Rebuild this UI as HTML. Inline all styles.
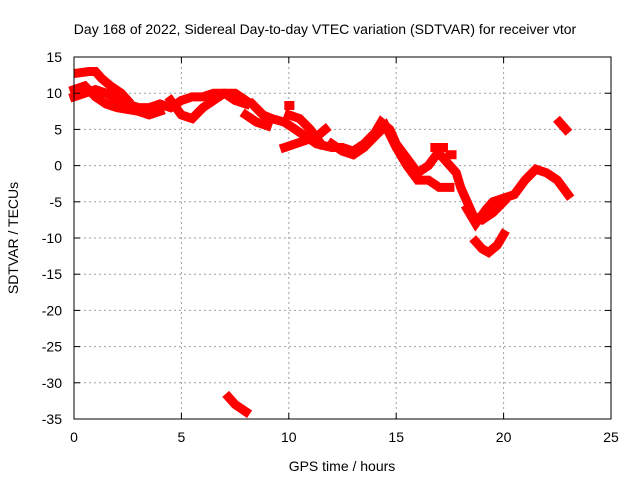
<!DOCTYPE html>
<html><head><meta charset="utf-8"><style>
body{margin:0;background:#fff}
svg{display:block;font-family:"Liberation Sans",sans-serif;font-size:14px}
</style></head><body>
<svg width="640" height="480">
<g id="grid"></g>
<g id="series"></g>
<rect x="74" y="57" width="537" height="362" fill="none" stroke="#000"/>
<g id="ticks"></g>
<text x="325" y="34" text-anchor="middle">Day 168 of 2022, Sidereal Day-to-day VTEC variation (SDTVAR) for receiver vtor</text>
<text x="342" y="471" text-anchor="middle">GPS time / hours</text>
<text x="18" y="238" text-anchor="middle" transform="rotate(-90 18 238)">SDTVAR / TECUs</text>
</svg>
<script>
const xTicks=[0,5,10,15,20,25];
const yTicks=[15,10,5,0,-5,-10,-15,-20,-25,-30,-35];
const trackA=[[0,9.5],[0.5,10],[1,10.5],[1.5,10],[2,9],[2.5,8.5],[3,8],[3.5,8],[4,8.5],[4.5,8],[5,9],[5.5,9.5],[6,9.5],[6.5,10],[7,10],[7.5,9],[8,8.5]];
const trackB=[[0.2,12.8],[0.7,13],[1,13],[1.3,12],[1.7,11],[2.2,10],[2.5,9]];
const trackC=[[0,10.5],[0.5,11],[1,9.5],[1.5,8.5],[2,8],[3,7.5],[3.5,7],[4,7.5]];
const trackD=[[4.5,9],[5,7],[5.5,6.5],[6,8],[6.5,9],[7,10],[7.5,10],[8,9]];
const trackE=[[8.3,8.5],[8.8,7],[9.2,6.5],[9.8,6],[10.3,5],[10.8,4],[11.3,3],[12,2.5],[12.5,2.5],[13,2],[13.5,3],[14,4.5],[14.3,6],[14.7,5],[15,3],[15.5,1],[16,-1],[16.5,0],[17,2]];
const trackF=[[8,7],[8.5,6],[9,5.5]];
const trackG=[[10,8.3],[10.05,8.3]];
const trackH=[[9.8,2.5],[10.3,3],[10.8,3.5],[11.3,4],[11.7,5]];
const trackI=[[10,7],[10.5,6.5],[11,5],[11.5,3]];
const trackJ=[[12,3],[12.5,2],[13,1.5],[13.5,2.5],[14,4],[14.5,5.5],[15,2.5],[15.5,0],[16,-2],[16.5,-2],[17,-3],[17.5,-3]];
const trackK=[[17.2,1],[17.5,0],[17.8,-1],[18,-3],[18.3,-5],[18.6,-7],[19,-7.5],[19.5,-6.5],[20,-5]];
const trackL=[[18.3,-6],[18.7,-8],[19.2,-6],[19.5,-5],[20,-4.5],[20.5,-4],[21,-2],[21.5,-0.5],[22,-1],[22.5,-2],[23,-4]];
const trackM=[[18.7,-10.5],[19,-11.5],[19.3,-12],[19.7,-11],[20,-9.5]];
const trackN=[[7.2,-32],[7.5,-33],[8,-34]];
const trackO=[[22.6,6],[22.9,5]];
const trackQ=[[16.8,2.5],[17.2,2.5]];
const trackR=[[17.5,1.5],[17.6,1.5]];
const tracks=[trackA,trackB,trackC,trackD,trackE,trackF,trackG,trackH,trackI,trackJ,trackK,trackL,trackM,trackN,trackO,trackQ,trackR];
const NS='http://www.w3.org/2000/svg';
const X=v=>74+v*537/25, Y=v=>57+(15-v)*362/50;
const grid=document.getElementById('grid'),tk=document.getElementById('ticks'),ser=document.getElementById('series');
function mk(tag,at,parent){const e=document.createElementNS(NS,tag);for(const k in at)e.setAttribute(k,at[k]);parent.appendChild(e);return e;}
xTicks.forEach(t=>{
 if(t>0&&t<25){const g=mk('line',{x1:X(t),x2:X(t),y1:57,y2:419,stroke:'#a0a0a0','stroke-dasharray':'2,3'},grid);
 
 }
 mk('line',{x1:X(t),x2:X(t),y1:419,y2:413,stroke:'#000'},tk);
 mk('line',{x1:X(t),x2:X(t),y1:57,y2:63,stroke:'#000'},tk);
 const l=mk('text',{x:X(t),y:442,'text-anchor':'middle'},tk);l.textContent=t;
 
 
});
yTicks.forEach(t=>{
 if(t<15&&t>-35){const g=mk('line',{x1:74,x2:611,y1:Y(t),y2:Y(t),stroke:'#a0a0a0','stroke-dasharray':'2,3'},grid);
 
 }
 mk('line',{x1:74,x2:80,y1:Y(t),y2:Y(t),stroke:'#000'},tk);
 mk('line',{x1:611,x2:605,y1:Y(t),y2:Y(t),stroke:'#000'},tk);
 const l=mk('text',{x:62,y:Y(t)+5,'text-anchor':'end'},tk);l.textContent=t;
 
 
});
tracks.forEach(tr=>{
 const p=mk('polyline',{points:tr.map(d=>X(d[0])+','+Y(d[1])).join(' '),fill:'none',stroke:'#f00','stroke-width':9,'stroke-linejoin':'miter','stroke-linecap':'square'},ser);
 
 
});
</script>
</body></html>
